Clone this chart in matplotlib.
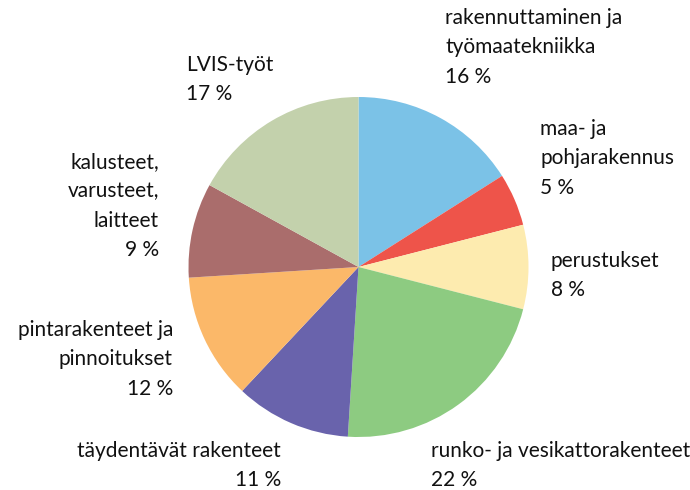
import matplotlib.pyplot as plt

plt.rcParams["font.family"] = ["Lato", "DejaVu Sans"]

labels = [
    "rakennuttaminen ja\ntyömaatekniikka",
    "maa- ja\npohjarakennus",
    "perustukset",
    "runko- ja vesikattorakenteet",
    "täydentävät rakenteet",
    "pintarakenteet ja\npinnoitukset",
    "kalusteet,\nvarusteet,\nlaitteet",
    "LVIS-työt",
]
shares = [16, 5, 8, 22, 11, 12, 9, 17]
colors = ["#7bc2e7", "#ee544a", "#fdebaf", "#8dcb81",
          "#6963ac", "#fbb869", "#aa6d6c", "#c3d1ac"]

# label anchor (x, top y) in pixels from top-left, and alignment
label_pos = [
    (445, 8, "left"),
    (540, 119, "left"),
    (551, 251, "left"),
    (431, 441, "left"),
    (281, 441, "right"),
    (173, 320, "right"),
    (159, 152, "right"),
    (186, 55, "left"),
]

W, H = 690, 490
fig = plt.figure(figsize=(6.9, 4.9), dpi=100)
ax = fig.add_axes([0, 0, 1, 1])
ax.pie(shares, colors=colors, startangle=90, counterclock=False,
       center=(358.5, H - 267), radius=170,
       wedgeprops={"linewidth": 0})
ax.set_xlim(0, W)
ax.set_ylim(0, H)
ax.set_aspect("equal")
ax.axis("off")

for lab, val, (x, y, ha) in zip(labels, shares, label_pos):
    ax.text(x, H - y, f"{lab}\n{val} %", ha=ha, va="top", multialignment=ha,
            fontsize=15, linespacing=1.58, color="#111111")

fig.savefig("out.png", dpi=100)
